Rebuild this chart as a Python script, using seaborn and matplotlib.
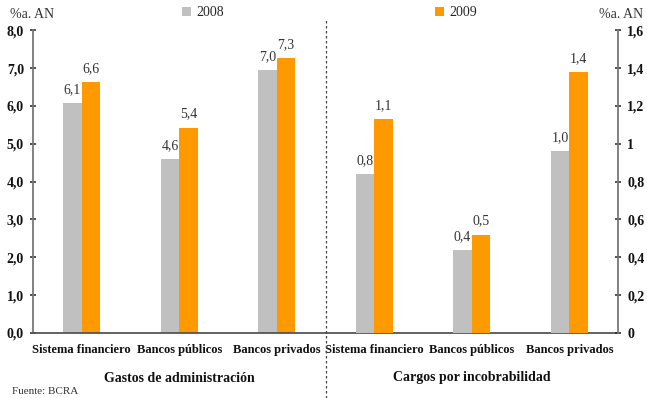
import matplotlib
matplotlib.use("Agg")
import matplotlib.pyplot as plt
import matplotlib.transforms as mtransforms
from matplotlib.lines import Line2D
import seaborn as sns
import pandas as pd

# ---- data ----
categories = ["Sistema financiero", "Bancos públicos", "Bancos privados"]
groups = ["Gastos de administración", "Cargos por incobrabilidad"]
years = ["2008", "2009"]
gastos_2008 = [6.08, 4.59, 6.96]
gastos_2009 = [6.64, 5.43, 7.27]
cargos_2008 = [0.84, 0.44, 0.96]
cargos_2009 = [1.13, 0.52, 1.38]
left_ticks = [0, 1, 2, 3, 4, 5, 6, 7, 8]
left_ticklabels = ["0,0", "1,0", "2,0", "3,0", "4,0", "5,0", "6,0", "7,0", "8,0"]
right_ticks = [0, 0.2, 0.4, 0.6, 0.8, 1.0, 1.2, 1.4, 1.6]
right_ticklabels = ["0", "0,2", "0,4", "0,6", "0,8", "1", "1,2", "1,4", "1,6"]
unit_label = "%a. AN"
source = "Fuente: BCRA"

colors = {"2008": "#C0C0C0", "2009": "#FF9900"}

keys_left = [f"{c} | {groups[0]}" for c in categories]
keys_right = [f"{c} | {groups[1]}" for c in categories]
order = keys_left + keys_right

df_left = pd.DataFrame({
    "cat": keys_left * 2,
    "year": [years[0]] * 3 + [years[1]] * 3,
    "value": gastos_2008 + gastos_2009,
})
df_right = pd.DataFrame({
    "cat": keys_right * 2,
    "year": [years[0]] * 3 + [years[1]] * 3,
    "value": cargos_2008 + cargos_2009,
})

sns.set_style("white")
plt.rcParams["font.family"] = ["Liberation Serif", "DejaVu Serif"]

fig = plt.figure(figsize=(6.47, 3.98), dpi=100)
ax = fig.add_axes([33 / 647, 1 - 333 / 398, (618 - 33) / 647, (333 - 30.3) / 398])
ax2 = ax.twinx()

sns.barplot(data=df_left, x="cat", y="value", hue="year", order=order,
            hue_order=years, palette=colors, width=0.38, ax=ax,
            saturation=1, errorbar=None, legend=True, linewidth=0)
sns.barplot(data=df_right, x="cat", y="value", hue="year", order=order,
            hue_order=years, palette=colors, width=0.38, ax=ax2,
            saturation=1, errorbar=None, legend=False, linewidth=0)

handles, labels = ax.get_legend_handles_labels()
if ax.get_legend() is not None:
    ax.get_legend().remove()

fmt = lambda v: f"{v:.1f}".replace(".", ",")
for a in (ax, ax2):
    for cont in a.containers:
        a.bar_label(cont, fmt=fmt, padding=5, fontsize=10, color="#333333")

ax.set_xlim(-0.5, 5.5)
ax.set_ylim(0, 8)
ax2.set_ylim(0, 1.6)

ax.set_yticks(left_ticks, labels=left_ticklabels)
ax2.set_yticks(right_ticks, labels=right_ticklabels)
ax.set_xticks(range(6), labels=categories * 2)
ax.set_xlabel("")
ax.set_ylabel("")
ax2.set_ylabel("")

for a in (ax, ax2):
    a.spines["top"].set_visible(False)
    for s in a.spines.values():
        s.set_color("#777777")
        s.set_linewidth(1.3)
    a.grid(False)

ax.spines["right"].set_visible(False)
ax2.spines["left"].set_visible(False)
ax2.spines["bottom"].set_visible(False)
ax.spines["bottom"].set_color("#555555")

ax.tick_params(axis="y", direction="inout", length=5, width=1.1, color="#222222",
               labelsize=10, pad=4, left=True)
ax2.tick_params(axis="y", direction="inout", length=5, width=1.1, color="#222222",
                labelsize=10, pad=4, right=True)
ax.tick_params(axis="x", length=0, labelsize=9, pad=8)
for t in ax.get_yticklabels() + ax2.get_yticklabels() + ax.get_xticklabels():
    t.set_fontweight("bold")
    t.set_color("#111111")

# group labels
bt = mtransforms.blended_transform_factory(ax.transData, fig.transFigure)
ax.text(1, 1 - 378 / 398, groups[0], transform=bt, ha="center", va="center",
        fontsize=10, fontweight="bold", color="#111111")
ax.text(4, 1 - 378 / 398, groups[1], transform=bt, ha="center", va="center",
        fontsize=10, fontweight="bold", color="#111111")

# divider
fig.add_artist(Line2D([2.5, 2.5], [0, 1 - 20 / 398], transform=bt,
                      linestyle=(0, (2, 2)), color="#444444", lw=0.9))

# unit labels
fig.text(10 / 647, 1 - 15 / 398, unit_label, ha="left", va="center",
         fontsize=10, color="#333333")
fig.text(643 / 647, 1 - 15 / 398, unit_label, ha="right", va="center",
         fontsize=10, color="#333333")
fig.text(12 / 647, 1 - 391 / 398, source, ha="left", va="center",
         fontsize=8, color="#333333")

# legends
fig.legend(handles=[handles[0]], labels=[labels[0]], loc="center left",
           bbox_to_anchor=(182 / 647, 1 - 13 / 398), frameon=False,
           handlelength=0.65, handleheight=0.65, handletextpad=0.35,
           borderpad=0, borderaxespad=0, fontsize=10)
fig.legend(handles=[handles[1]], labels=[labels[1]], loc="center left",
           bbox_to_anchor=(435 / 647, 1 - 13 / 398), frameon=False,
           handlelength=0.65, handleheight=0.65, handletextpad=0.35,
           borderpad=0, borderaxespad=0, fontsize=10)

fig.savefig("out.png", dpi=100)
